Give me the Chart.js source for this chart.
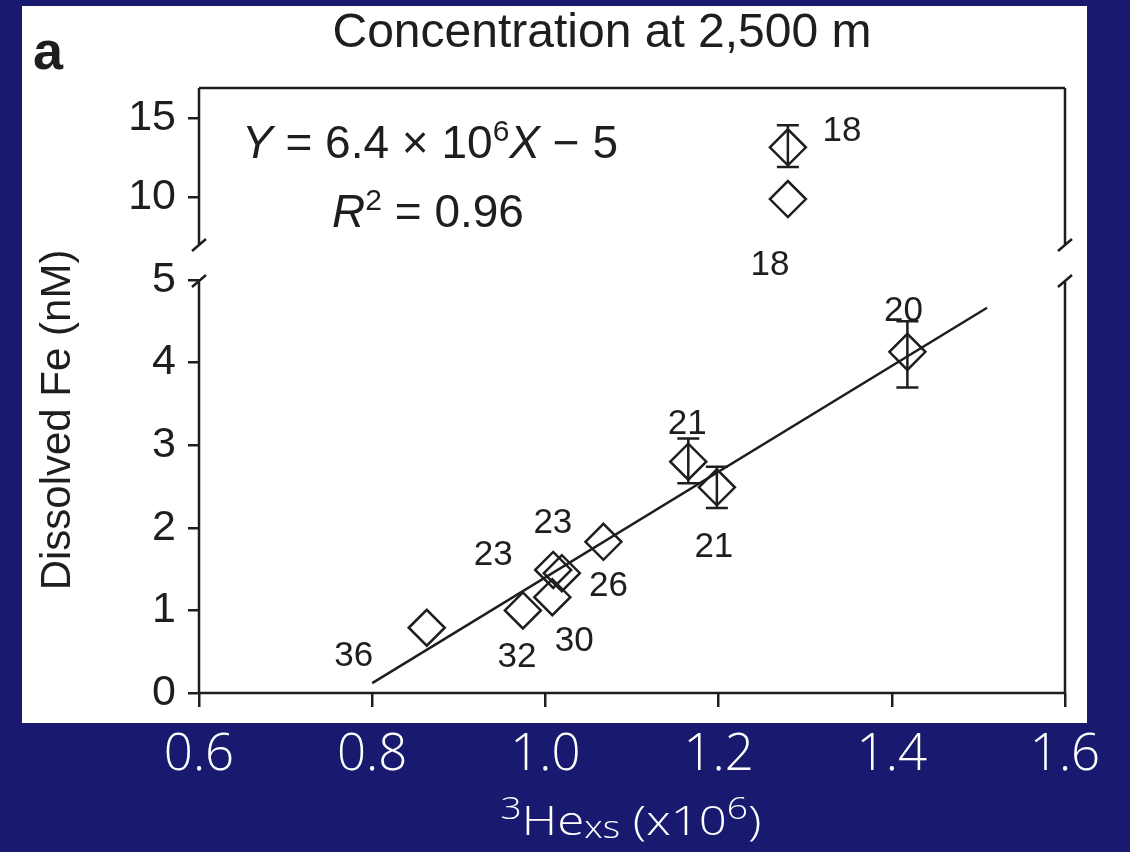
<!DOCTYPE html>
<html>
<head>
<meta charset="utf-8">
<script src="https://cdn.jsdelivr.net/npm/chart.js@4"></script>
<style>
  html, body { margin: 0; padding: 0; background: #191a6f; }
  #wrap { width: 1130px; height: 852px; }
</style>
</head>
<body>
<div id="wrap"><canvas id="feChart" width="1130" height="852"></canvas></div>
<script>
// dissolved Fe against excess 3He, points tagged with station number
const heXs = [0.863, 0.974, 1.008, 1.009, 1.019, 1.067, 1.165, 1.198, 1.418];
const dissolvedFe = [0.79, 1.00, 1.16, 1.49, 1.45, 1.83, 2.80, 2.49, 4.13];
const feErrLow = [null, null, null, null, null, null, 2.54, 2.24, 3.70];
const feErrHigh = [null, null, null, null, null, null, 3.08, 2.74, 4.50];
const stations = ['36', '32', '30', '23', '23', '26', '21', '21', '20'];

// the two station 18 readings sit above the axis break
const heXsHigh = [1.280, 1.280];
const dissolvedFeHigh = [13.15, 9.87];
const feErrLowHigh = [11.9, null];
const feErrHighHigh = [14.55, null];
const stationsHigh = ['18', '18'];

// linear fit Y = 6.4 x 10^6 X - 5  (X axis already in units of 10^6)
const fitSlope = 6.4;
const fitIntercept = -5;
const fitRange = [0.8, 1.51];

const xTicks = [0.6, 0.8, 1.0, 1.2, 1.4, 1.6];
const yTicksLow = [0, 1, 2, 3, 4, 5];
const yTicksHigh = [10, 15];

// where each station tag sits relative to its marker (px)
const tagOffsets = [[-73, 29], [-6, 47], [22, 44], [-60, -15], [-9, -50], [5, 45], [-1, -37], [-3, 60], [-4, -41]];
const tagOffsetsHigh = [[54, -16], [-18, 66]];

const ink = '#1e1e1e';
const navy = '#191a6f';
const sans = '"Liberation Sans", Arial, sans-serif';
const light = '"Open Sans", "Liberation Sans", sans-serif';

Chart.defaults.font.family = sans;

function drawRuns(ctx, runs, cx, baseline) {
    let total = 0;
    runs.forEach(r => {
        ctx.font = r.font;
        r.w = ctx.measureText(r.text).width;
        total += r.w;
    });
    let x = cx - total / 2;
    runs.forEach(r => {
        ctx.font = r.font;
        ctx.fillText(r.text, x, baseline + (r.dy || 0));
        x += r.w;
    });
}

const panel = {
    id: 'panel',
    beforeDraw(chart) {
        const ctx = chart.ctx;
        ctx.save();
        ctx.fillStyle = navy;
        ctx.fillRect(0, 0, chart.width, chart.height);
        ctx.fillStyle = '#ffffff';
        ctx.fillRect(22, 6, 1065, 717);
        ctx.restore();
    }
};

// box around the plot, with the break marks on both sides
const frame = {
    id: 'frame',
    beforeDatasetsDraw(chart) {
        const {ctx, chartArea: a, scales} = chart;
        const low = scales.y.top + 1;
        const high = low - 36;
        ctx.save();
        ctx.strokeStyle = ink;
        ctx.lineWidth = 2.5;
        ctx.beginPath();
        ctx.moveTo(a.left, a.top);
        ctx.lineTo(a.right, a.top);
        ctx.moveTo(a.left, a.bottom);
        ctx.lineTo(a.right, a.bottom);
        for (const x of [a.left, a.right]) {
            ctx.moveTo(x, a.top);
            ctx.lineTo(x, high);
            ctx.moveTo(x, low);
            ctx.lineTo(x, a.bottom);
            ctx.moveTo(x - 7, high + 6);
            ctx.lineTo(x + 7, high - 6);
            ctx.moveTo(x - 7, low + 6);
            ctx.lineTo(x + 7, low - 6);
        }
        ctx.stroke();
        ctx.restore();
    }
};

const errorBars = {
    id: 'errorBars',
    afterDatasetsDraw(chart) {
        const ctx = chart.ctx;
        chart.data.datasets.forEach((ds, i) => {
            if (!ds.errLow) return;
            const meta = chart.getDatasetMeta(i);
            const yScale = chart.scales[ds.yAxisID];
            ctx.save();
            ctx.strokeStyle = ink;
            ctx.lineWidth = 2.5;
            meta.data.forEach((pt, j) => {
                if (ds.errLow[j] == null) return;
                const top = yScale.getPixelForValue(ds.errHigh[j]);
                const bot = yScale.getPixelForValue(ds.errLow[j]);
                ctx.beginPath();
                ctx.moveTo(pt.x, top);
                ctx.lineTo(pt.x, bot);
                ctx.moveTo(pt.x - 11, top);
                ctx.lineTo(pt.x + 11, top);
                ctx.moveTo(pt.x - 11, bot);
                ctx.lineTo(pt.x + 11, bot);
                ctx.stroke();
            });
            ctx.restore();
        });
    }
};

const stationTags = {
    id: 'stationTags',
    afterDatasetsDraw(chart) {
        const ctx = chart.ctx;
        ctx.save();
        ctx.fillStyle = ink;
        ctx.font = '35px ' + sans;
        ctx.textAlign = 'center';
        ctx.textBaseline = 'middle';
        chart.data.datasets.forEach((ds, i) => {
            if (!ds.tags) return;
            chart.getDatasetMeta(i).data.forEach((pt, j) => {
                const [dx, dy] = ds.tagOffsets[j];
                ctx.fillText(ds.tags[j], pt.x + dx, pt.y + dy);
            });
        });
        ctx.restore();
    }
};

const annotations = {
    id: 'annotations',
    afterDraw(chart) {
        const ctx = chart.ctx;
        ctx.save();
        ctx.fillStyle = ink;
        ctx.textBaseline = 'alphabetic';

        ctx.textAlign = 'left';
        ctx.font = 'bold 54px ' + sans;
        ctx.fillText('a', 33, 69);

        ctx.textAlign = 'center';
        ctx.font = '48px ' + sans;
        ctx.fillText('Concentration at 2,500 m', 602, 47);

        ctx.save();
        ctx.translate(70, 420);
        ctx.rotate(-Math.PI / 2);
        ctx.font = '42px ' + sans;
        ctx.fillText('Dissolved Fe (nM)', 0, 0);
        ctx.restore();

        ctx.textAlign = 'left';
        const f = '46px ' + sans;
        const fi = 'italic 46px ' + sans;
        const fs = '30px ' + sans;
        drawRuns(ctx, [
            {text: 'Y', font: fi},
            {text: ' = 6.4 \u00d7 10', font: f},
            {text: '6', font: fs, dy: -17},
            {text: 'X', font: fi},
            {text: ' \u2212 5', font: f}
        ], 430, 158);
        drawRuns(ctx, [
            {text: 'R', font: fi},
            {text: '2', font: fs, dy: -17},
            {text: ' = 0.96', font: f}
        ], 428, 227);

        // x axis title, set a little wide like the tick labels
        ctx.fillStyle = '#ffffff';
        const w = '300 41px ' + light;
        const ws = '300 31px ' + light;
        ctx.translate(631, 835);
        ctx.scale(1.2, 1);
        drawRuns(ctx, [
            {text: '3', font: ws, dy: -16},
            {text: 'He', font: w},
            {text: 'xs', font: ws, dy: 3},
            {text: ' (x10', font: w},
            {text: '6', font: ws, dy: -16},
            {text: ')', font: w}
        ], 0, 0);
        ctx.restore();
    }
};

const yTickStyle = {
    color: ink,
    font: {size: 43},
    padding: 12,
    autoSkip: false
};
const yGridStyle = {
    drawOnChartArea: false,
    tickLength: 11,
    color: ink,
    lineWidth: 2.5
};

new Chart(document.getElementById('feChart'), {
    type: 'scatter',
    data: {
        datasets: [{
            data: heXs.map((x, i) => ({x: x, y: dissolvedFe[i]})),
            yAxisID: 'y',
            pointStyle: 'rectRot',
            pointRadius: 18,
            borderColor: ink,
            backgroundColor: 'transparent',
            borderWidth: 2.5,
            errLow: feErrLow,
            errHigh: feErrHigh,
            tags: stations,
            tagOffsets: tagOffsets
        }, {
            data: heXsHigh.map((x, i) => ({x: x, y: dissolvedFeHigh[i]})),
            yAxisID: 'yTop',
            pointStyle: 'rectRot',
            pointRadius: 18,
            borderColor: ink,
            backgroundColor: 'transparent',
            borderWidth: 2.5,
            errLow: feErrLowHigh,
            errHigh: feErrHighHigh,
            tags: stationsHigh,
            tagOffsets: tagOffsetsHigh
        }, {
            data: fitRange.map(x => ({x: x, y: fitSlope * x + fitIntercept})),
            yAxisID: 'y',
            showLine: true,
            pointRadius: 0,
            borderColor: ink,
            borderWidth: 2.5,
            fill: false
        }]
    },
    options: {
        responsive: false,
        animation: false,
        layout: {padding: {top: 88, right: 65, left: 0, bottom: 0}},
        plugins: {
            legend: {display: false},
            tooltip: {enabled: false}
        },
        scales: {
            x: {
                type: 'linear',
                min: 0.6,
                max: 1.6,
                afterBuildTicks: s => { s.ticks = xTicks.map(v => ({value: v})); },
                afterFit: s => { s.height = 159; },
                border: {display: false},
                grid: {drawOnChartArea: false, tickLength: 14, color: ink, lineWidth: 2.5},
                ticks: {
                    color: '#ffffff',
                    font: {family: light, size: 51, weight: 300},
                    padding: 18,
                    maxRotation: 0,
                    autoSkip: false,
                    callback: v => Number(v).toFixed(1)
                }
            },
            y: {
                type: 'linear',
                position: 'left',
                stack: 'fe',
                stackWeight: 413,
                min: 0,
                max: 5,
                afterBuildTicks: s => { s.ticks = yTicksLow.map(v => ({value: v})); },
                afterFit: s => { s.width = 199; },
                border: {display: false},
                grid: yGridStyle,
                ticks: yTickStyle
            },
            yTop: {
                type: 'linear',
                position: 'left',
                stack: 'fe',
                stackWeight: 192,
                min: 4.75,
                max: 16.9,
                afterBuildTicks: s => { s.ticks = yTicksHigh.map(v => ({value: v})); },
                afterFit: s => { s.width = 199; },
                border: {display: false},
                grid: yGridStyle,
                ticks: yTickStyle
            }
        }
    },
    plugins: [panel, frame, errorBars, stationTags, annotations]
});
</script>
</body>
</html>
